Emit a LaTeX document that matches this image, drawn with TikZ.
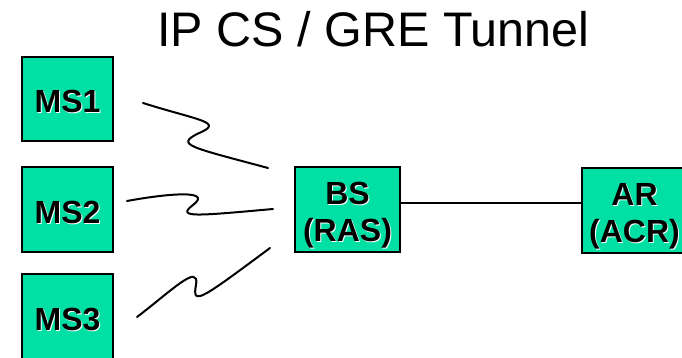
\documentclass[tikz,border=0pt]{standalone}
\usepackage{fontspec}
\setmainfont{Liberation Sans}
\definecolor{boxgreen}{RGB}{0,224,164}
\newcommand\shd[1]{\leavevmode\rlap{\raisebox{-1pt}{\hspace{1pt}\textcolor{white}{#1}}}#1}
\begin{document}
\begin{tikzpicture}[x=1pt,y=-1pt,
  box/.style={draw=black,line width=2pt,fill=boxgreen,inner sep=0pt},
  msbox/.style={box,minimum width=91pt,minimum height=84pt},
  bigbox/.style={box,minimum width=105pt,minimum height=85pt},
  lbl/.style={inner sep=0pt,text depth=0pt,align=center,font=\fontsize{32}{37}\selectfont\bfseries},
  wire/.style={line width=2pt,line cap=round}]
\useasboundingbox (0,0) rectangle (682,358);
\clip (0,0) rectangle (682,358);
\node[anchor=base,inner sep=0pt,font=\fontsize{48.5}{56}\selectfont] (title) at (373.5,46.5) {IP CS / GRE Tunnel};
% boxes
\node[msbox] (ms1) at (67.5,99) {};
\node[msbox] (ms2) at (67.5,209.5) {};
\node[msbox,minimum height=85pt] (ms3) at (67.5,316.5) {};
\node[bigbox] (bs) at (347.5,209.5) {};
\node[bigbox] (ar) at (634.5,210.5) {};
% labels
\node[lbl] (ms1t) at (67.5,101.5) {\shd{MS1}};
\node[lbl] (ms2t) at (67.5,212) {\shd{MS2}};
\node[lbl] (ms3t) at (67.5,319.5) {\shd{MS3}};
\node[lbl] (bst) at (347.5,211.5) {\shd{BS}\\\shd{(RAS)}};
\node[lbl] (art) at (634.5,213) {\shd{AR}\\\shd{(ACR)}};
% link BS - AR
\draw[line width=2pt] ([yshift=6.5pt]bs.east) -- ([yshift=6.5pt]bs.east -| ar.west);
% wireless links
\coordinate (w1a) at (143,103);
\coordinate (w1b) at (268,168);
\coordinate (w2a) at (127,201);
\coordinate (w2b) at (273,209);
\coordinate (w3a) at (137,317);
\coordinate (w3b) at (270,248);
\draw[wire] (w1a) .. controls (200,121) and (226,122) .. (197,134)
                  .. controls (176,145) and (190,147) .. (w1b);
\draw[wire] (w2a) .. controls (165,194) and (214,189) .. (193,205)
                  .. controls (176,218) and (195,216) .. (w2b);
\draw[wire] (w3a) .. controls (170,292) and (200,262) .. (196,285)
                  .. controls (192,306) and (200,300) .. (w3b);
\end{tikzpicture}
\end{document}
